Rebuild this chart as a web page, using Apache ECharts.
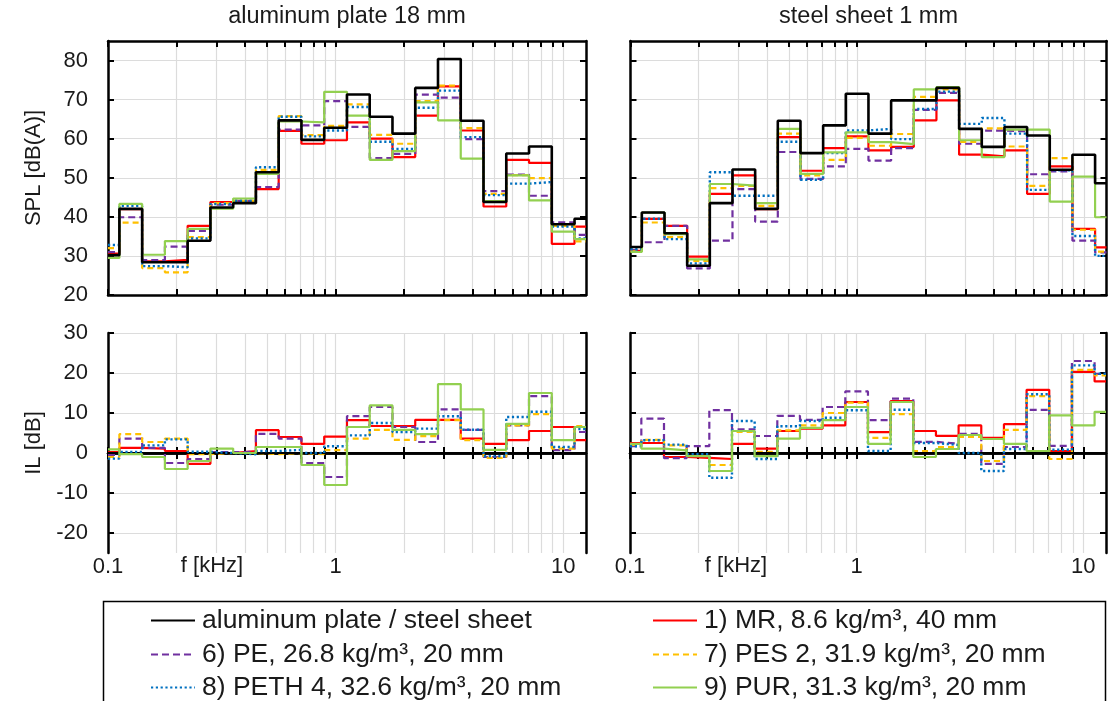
<!DOCTYPE html>
<html><head><meta charset="utf-8">
<script src="https://cdn.jsdelivr.net/npm/echarts@6/dist/echarts.min.js"></script>
<style>html,body{margin:0;padding:0;background:#fff}#c{width:1108px;height:701px}</style>
</head><body><div id="c"></div>
<script>
// third-octave band centres [kHz]
const bandCenters = [0.1,0.125,0.16,0.2,0.25,0.315,0.4,0.5,0.63,0.8,1,1.25,1.6,2,2.5,3.15,4,5,6.3,8,10,12.5];
const xMin = 0.1, xMax = 12.6;
const xTickValues = [0.1,0.2,0.3,0.4,0.5,0.6,0.7,0.8,0.9,1,2,3,4,5,6,7,8,9,10];
const xLabelValues = [0.1,1,10];
const splTicks = [20,30,40,50,60,70,80];
const ilTicks = [-20,-10,0,10,20,30];

const seriesNames = [
  'aluminum plate / steel sheet',
  '1) MR, 8.6 kg/m³, 40 mm',
  '6) PE, 26.8 kg/m³, 20 mm',
  '7) PES 2, 31.9 kg/m³, 20 mm',
  '8) PETH 4, 32.6 kg/m³, 20 mm',
  '9) PUR, 31.3 kg/m³, 20 mm'
];

// SPL [dB(A)] aluminum plate 18 mm
const alSplBare   = [30.2,42.05,28.4,28.4,33.9,42.4,43.5,51.4,64.7,59.7,62.8,71.3,65.6,61.3,73.0,80.4,64.6,43.8,56.2,58.0,38.1,39.5];
const alSplMR     = [30.6,42.0,28.6,29.0,37.7,43.8,43.9,47.1,62.0,58.7,59.6,64.2,60.0,55.3,65.9,73.4,62.1,42.65,54.6,53.8,33.1,37.5];
const alSplPE     = [31.0,39.9,28.9,32.4,36.4,43.1,44.1,47.6,62.3,63.4,69.6,63.0,55.05,56.1,71.3,70.5,59.9,46.6,50.8,45.4,38.6,35.4];
const alSplPES    = [32.0,38.5,26.9,25.8,34.8,43.5,44.1,52.0,65.8,60.9,63.3,68.8,61.0,58.7,69.6,73.6,62.7,45.9,50.7,49.9,37.7,33.7];
const alSplPETH   = [32.8,42.8,27.4,27.1,34.5,43.3,44.1,52.7,65.6,60.6,62.1,68.1,59.2,57.4,67.9,72.3,60.4,45.55,48.5,48.9,37.5,34.5];
const alSplPUR    = [29.5,43.3,30.3,33.8,36.9,42.1,44.7,51.0,64.4,64.2,72.0,65.9,54.6,56.8,69.3,64.7,54.9,44.0,50.6,44.2,36.2,34.3];

// SPL [dB(A)] steel sheet 1 mm
const stSplBare   = [32.3,41.1,35.8,27.5,43.5,52.1,42.05,64.6,56.3,63.4,71.5,61.3,69.8,69.8,73.0,62.5,57.9,63.0,60.8,52.05,55.9,48.6];
const stSplMR     = [31.3,39.5,37.7,29.8,45.9,50.6,42.0,60.4,51.8,57.6,60.6,57.0,57.9,64.7,69.8,55.9,55.5,57.0,45.9,52.9,36.9,32.2];
const stSplPE     = [31.5,33.5,37.7,26.8,33.9,47.1,38.8,56.6,49.7,52.9,57.4,54.4,57.6,67.4,71.7,58.7,62.05,61.9,50.9,51.6,33.9,30.9];
const stSplPES    = [31.2,38.55,34.8,28.7,47.35,47.9,42.8,61.3,50.6,54.6,60.2,58.2,61.2,70.7,72.6,59.2,62.65,58.0,47.95,55.05,36.7,31.1];
const stSplPETH   = [31.7,39.5,34.3,28.1,51.4,45.4,45.4,59.2,49.5,56.3,62.1,62.5,59.9,67.6,72.05,63.8,65.3,61.3,46.9,51.9,35.1,30.0];
const stSplPUR    = [31.0,41.1,35.6,29.1,48.4,48.0,43.5,62.5,51.0,56.5,61.6,59.1,58.6,72.6,73.2,59.6,55.3,62.3,62.3,43.9,50.3,39.9];

// IL [dB] aluminum plate
const alIlMR   = [0.2,1.3,1.1,0.5,-2.7,0.0,0.5,5.7,4.0,2.3,4.1,8.2,6.75,6.75,8.3,8.3,3.6,2.3,3.2,5.5,6.5,3.2];
const alIlPE   = [-0.5,3.6,1.3,-2.5,-1.5,0.2,0.3,4.8,3.6,-2.5,-6.0,9.2,11.5,6.5,2.75,10.9,5.8,-1.0,6.9,14.2,0.7,5.25];
const alIlPES  = [-1.0,4.7,2.75,3.6,-0.3,0.0,0.0,-0.3,0.0,-0.3,0.7,3.6,5.8,3.3,4.2,8.2,3.2,-1.2,6.9,9.7,1.1,6.7];
const alIlPETH = [-1.4,0.25,1.9,3.4,0.3,0.0,-0.3,0.5,0.8,0.0,1.7,4.4,7.5,5.25,6.1,9.2,5.8,-0.8,9.0,10.3,1.5,6.0];
const alIlPUR  = [0.9,-0.3,-1.0,-4.0,-2.0,1.1,0.0,1.5,1.5,-3.0,-8.0,6.5,11.9,5.8,4.7,17.2,10.9,0.8,7.3,15.0,3.2,6.5];

// IL [dB] steel sheet
const stIlMR   = [2.5,2.5,-1.0,-1.2,-1.5,2.3,1.1,5.5,6.1,6.9,12.75,5.2,13.0,5.5,4.3,6.9,3.8,7.2,15.8,0.5,20.3,17.9];
const stIlPE   = [1.7,8.6,-1.3,1.7,10.7,5.9,4.25,9.3,8.3,11.5,15.4,8.2,13.6,2.8,2.3,4.8,-2.7,1.5,10.8,1.8,23.0,19.8];
const stIlPES  = [2.0,3.3,1.9,0.0,-3.0,5.25,0.3,5.67,6.9,10.0,12.6,3.8,9.7,0.5,1.5,4.0,-2.0,5.8,14.2,-1.5,20.8,19.4];
const stIlPETH = [1.7,3.2,2.1,-0.3,-6.2,8.0,-1.5,6.7,8.0,8.8,10.7,0.5,10.8,2.5,2.0,0.0,-4.5,1.0,14.7,0.8,21.9,19.8];
const stIlPUR  = [2.3,1.1,0.67,-0.8,-4.5,5.5,-0.8,3.6,6.3,8.2,11.5,2.3,12.75,-1.0,1.0,4.5,3.5,2.3,0.5,9.4,6.9,10.3];

const FONT = "'Liberation Sans', Arial, sans-serif";
const TXT = '#1a1a1a';
const styles = [
  {color:'#000000', width:2.6, type:'solid'},
  {color:'#ff0000', width:2.2, type:'solid'},
  {color:'#7030a0', width:2.2, type:[7,4]},
  {color:'#ffc000', width:2.2, type:[6,4]},
  {color:'#0070c0', width:2.4, type:[2.2,2.6]},
  {color:'#92d050', width:2.2, type:'solid'}
];

// lower band edge of band i (exact base-10 third-octave), clipped to the axis start
function bandLower(i){ return Math.max(xMin, Math.pow(10, -1 + (i - 0.5) / 10)); }
function stepData(vals){
  const d = vals.map((v,i)=>[bandLower(i), v]);
  d.push([xMax, vals[vals.length-1]]);
  return d;
}

const grids = [
  {left:108, top:41, width:478, height:254},
  {left:630.5, top:41, width:476, height:254},
  {left:108, top:333, width:478, height:220},
  {left:630, top:333, width:476, height:220}
];

const xAxis = [], yAxis = [];
grids.forEach((g,gi)=>{
  const bottomRow = gi >= 2;
  const common = {type:'log', logBase:10, gridIndex:gi, min:xMin, max:xMax,
    axisLine:{show:true, lineStyle:{color:'#000', width:2.5}},
    axisTick:{show:true, inside:true, length:6, customValues:xTickValues, lineStyle:{color:'#000', width:2}}};
  xAxis.push(Object.assign({}, common, {position:'bottom',
    axisLabel:{show:bottomRow, customValues:xLabelValues, showMinLabel:true, showMaxLabel:true,
      color:TXT, fontSize:22, fontFamily:FONT, margin:3,
      formatter:v=>String(+(+v).toPrecision(6))},
    splitLine:{show:true, lineStyle:{color:'#dcdcdc', width:1.2}}}));
  xAxis.push(Object.assign({}, common, {position:'top', axisLabel:{show:false}, splitLine:{show:false}}));
  const ticks = bottomRow ? ilTicks : splTicks;
  const yc = {type:'value', gridIndex:gi, min: bottomRow ? -25 : 20, max: bottomRow ? 30 : 85,
    axisLine:{show:true, lineStyle:{color:'#000', width:2.5}},
    axisTick:{show:true, inside:true, length:6, customValues:ticks, lineStyle:{color:'#000', width:2}}};
  const leftCol = gi % 2 === 0;
  yAxis.push(Object.assign({}, yc, {position:'left',
    axisLabel:{show:leftCol, customValues:ticks, color:TXT, fontSize:22, fontFamily:FONT, margin:20,
      formatter:v=> (Math.round(v) % 10 === 0 ? String(Math.round(v)) : '')},
    splitLine:{show:true, lineStyle:{color:'#dcdcdc', width:1.2}}}));
  yAxis.push(Object.assign({}, yc, {position:'right', axisLabel:{show:false}, splitLine:{show:false}}));
});

const panelData = [
  [alSplBare, alSplMR, alSplPE, alSplPES, alSplPETH, alSplPUR],
  [stSplBare, stSplMR, stSplPE, stSplPES, stSplPETH, stSplPUR],
  [null, alIlMR, alIlPE, alIlPES, alIlPETH, alIlPUR],
  [null, stIlMR, stIlPE, stIlPES, stIlPETH, stIlPUR]
];
const drawOrder = [1,2,3,4,5,0];
const series = [];
panelData.forEach((arrs,gi)=>{
  let first = true;
  drawOrder.forEach((si,k)=>{
    if(!arrs[si]) return;
    const st = styles[si];
    const s = {type:'line', name:seriesNames[si], xAxisIndex:gi*2, yAxisIndex:gi*2,
      data:stepData(arrs[si]), step:'end', symbol:'none', showSymbol:false, clip:true,
      lineStyle:{color:st.color, width:st.width, type:st.type, cap:'butt'},
      itemStyle:{color:st.color}, z:2+k, silent:true, animation:false};
    if(gi >= 2 && first){
      s.markLine = {silent:true, symbol:'none', label:{show:false}, animation:false,
        lineStyle:{color:'#000', width:2.2, type:'solid'}, data:[{yAxis:0}]};
    }
    first = false;
    series.push(s);
  });
});

const legendPos = [
  {i:0, left:150, top:607}, {i:1, left:652, top:607},
  {i:2, left:150, top:641}, {i:3, left:652, top:641},
  {i:4, left:150, top:674}, {i:5, left:652, top:674}
];
const legend = legendPos.map(p=>({data:[seriesNames[p.i]], left:p.left, top:p.top, padding:0, itemGap:0,
  itemWidth:44, itemHeight:14, selectedMode:false, orient:'horizontal',
  itemStyle:{opacity:0, borderWidth:0},
  textStyle:{fontSize:26.5, color:TXT, fontFamily:FONT, padding:[0,0,0,2]}}));

const graphic = [
  {type:'rect', shape:{x:103.5, y:601.5, width:1002, height:120}, style:{fill:'none', stroke:'#000', lineWidth:1.5}, silent:true},
  {type:'text', x:347, y:17, style:{text:'aluminum plate 18 mm', fontSize:23.5, fontFamily:FONT, fill:TXT, align:'center', verticalAlign:'middle'}},
  {type:'text', x:868.5, y:17, style:{text:'steel sheet 1 mm', fontSize:23.5, fontFamily:FONT, fill:TXT, align:'center', verticalAlign:'middle'}},
  {type:'text', x:34, y:168, rotation:Math.PI/2, style:{text:'SPL [dB(A)]', fontSize:22, fontFamily:FONT, fill:TXT, align:'center', verticalAlign:'middle'}},
  {type:'text', x:34, y:443, rotation:Math.PI/2, style:{text:'IL [dB]', fontSize:22, fontFamily:FONT, fill:TXT, align:'center', verticalAlign:'middle'}},
  {type:'text', x:212, y:566, style:{text:'f [kHz]', fontSize:22, fontFamily:FONT, fill:TXT, align:'center', verticalAlign:'middle'}},
  {type:'text', x:736, y:566, style:{text:'f [kHz]', fontSize:22, fontFamily:FONT, fill:TXT, align:'center', verticalAlign:'middle'}}
];

const chart = echarts.init(document.getElementById('c'), null, {renderer:'canvas'});
chart.setOption({animation:false, backgroundColor:'#fff', grid:grids, xAxis, yAxis, series, legend, graphic});
</script></body></html>
